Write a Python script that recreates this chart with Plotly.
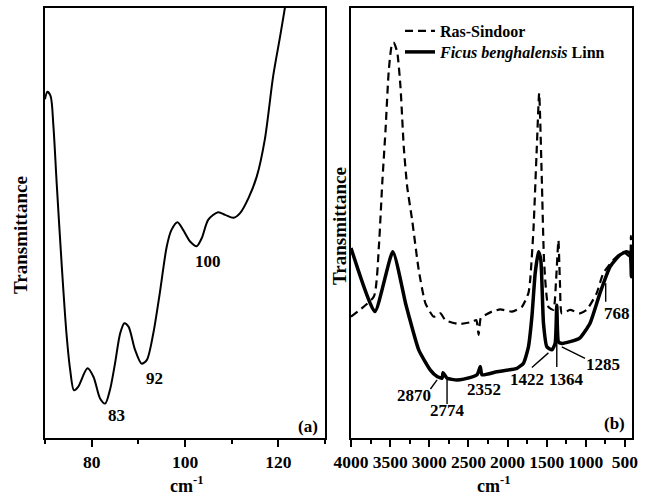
import plotly.graph_objects as go

# ---------------- data: panel (a) ----------------
wn_a = [70, 70.5, 71.2, 71.8, 72.5, 73.6, 74.6, 75.4, 76.2, 77.1, 79.1, 80.4, 81.8, 82.9,
        83.9, 85.0, 86.1, 87.0, 87.9, 89.3, 90.7, 91.8, 93.2, 94.6, 96.1, 97.1, 98.4,
        99.6, 101.1, 102.5, 103.6, 105.0, 107.1, 108.6, 110.4, 111.8, 113.6, 115.4,
        117.1, 118.9, 120.4, 121.4, 122.0]
t_a = [78.8, 80.5, 79.5, 72.6, 59.3, 39.9, 24.3, 15.8, 11.1, 11.9, 16.2, 14.2, 9.2, 8.0,
       11.1, 17.3, 24.3, 26.7, 25.9, 20.5, 17.3, 18.1, 24.3, 33.7, 44.6, 48.4, 50.2,
       48.4, 45.7, 44.6, 46.5, 50.8, 52.5, 51.9, 51.2, 52.3, 55.8, 60.9,
       69.4, 84.2, 93.5, 100, 104]
labels_a = ["83", "92", "100", "(a)"]
labels_a_x = [85.4, 93.4, 105.0, 126.4]
labels_a_y = [5.3, 13.8, 41.1, 2.6]

# ---------------- data: panel (b) ----------------
wn_ficus = [4000, 3695, 3466, 3304, 3262, 3135, 2986, 2900, 2836, 2824, 2773, 2645, 2561,
            2390, 2348, 2327, 2135, 1880, 1796, 1733, 1689, 1647, 1605, 1575, 1541, 1498,
            1434, 1392, 1371, 1348, 1307, 1201, 1074, 946, 819, 691, 564, 478, 436, 424,
            418, 411]
t_ficus = [44.2, 29.4, 43.3, 31.4, 28.5, 20.5, 15.8, 14.3, 13.9, 15.2, 13.9, 13.5, 13.7,
           14.7, 16.6, 14.7, 15.4, 16.2, 17.4, 21.2, 28.2, 38.3, 43.3, 41.4, 26.7, 21.2,
           20.5, 22.0, 30.9, 22.3, 22.0, 22.4, 23.3, 26.7, 33.7, 39.8, 42.6, 43.3, 43.0, 41.0,
           37.5, 44.0]

wn_ras = [4000, 3708, 3644, 3601, 3559, 3517, 3474, 3453, 3410, 3368, 3326, 3282, 3219,
          3135, 3049, 2943, 2858, 2794, 2625, 2454, 2399, 2370, 2342, 2285, 2199, 2093,
          1944, 1817, 1733, 1711, 1669, 1626, 1596, 1562, 1532, 1478, 1414, 1380, 1350,
          1329, 1307, 1201, 1074, 988, 861, 777, 649, 522, 437, 424, 411]
t_ras = [28.2, 32.9, 44.5, 59.2, 71.6, 85.6, 91.8, 91.9, 89.8, 81.7, 67.7, 58.4, 50.7,
         39.1, 31.3, 28.2, 29.0, 27.4, 26.5, 27.0, 27.4, 24.0, 27.9, 28.6, 29.4, 29.9,
         29.4, 30.5, 33.7, 36.7, 48.4, 67.7, 80.2, 60.0, 40.6, 30.5, 29.8, 36.7, 46.0,
         35.2, 29.0, 29.8, 29.0, 29.8, 33.7, 38.3, 41.4, 43.3, 42.2, 47.0, 42.6]

peak_labels_b = ["2870", "2774", "2352", "1422", "1364", "1285", "768", "(b)"]
peak_text_x = [3198, 2773, 2306, 1753, 1243, 777, 606, 640]
peak_text_y = [10.0, 6.5, 11.2, 13.5, 13.5, 17.0, 29.0, 3.3]
# pointer segments (x0, y0, x1, y1) in data units
pointer_x0 = [2985, 2773, 1689, 1371, 1307, 746]
pointer_y0 = [11.4, 13.5, 16.4, 24.4, 21.2, 36.0]
pointer_x1 = [2900, 2773, 1478, 1371, 1010, 746]
pointer_y1 = [13.5, 7.9, 19.8, 16.5, 18.5, 31.7]

FONT = "Liberation Serif, Times New Roman, serif"
W, H = 645, 497

fig = go.Figure()
fig.add_trace(go.Scatter(x=wn_a, y=t_a, mode="lines", xaxis="x", yaxis="y",
                         line=dict(color="black", width=2, shape="spline", smoothing=0.8),
                         showlegend=False))
fig.add_trace(go.Scatter(x=wn_ras, y=t_ras, mode="lines", xaxis="x2", yaxis="y2",
                         name="Ras-Sindoor", legend="legend",
                         line=dict(color="black", width=2.2, dash="8px,5px",
                                   shape="spline", smoothing=0.5)))
fig.add_trace(go.Scatter(x=wn_ficus, y=t_ficus, mode="lines", xaxis="x2", yaxis="y2",
                         name="<i>Ficus benghalensis</i> Linn", legend="legend2",
                         line=dict(color="black", width=3.5, shape="spline", smoothing=0.5)))

axis_common = dict(showline=True, linewidth=2, linecolor="black", mirror=True,
                   showgrid=False, zeroline=False, automargin=False)
tickfont = dict(family=FONT, size=17.5, weight="bold", color="black")
legfont = dict(family=FONT, size=16, weight="bold", color="black")
annfont = dict(family=FONT, size=17, weight="bold", color="black")
titlefont_y = dict(family=FONT, size=19, weight="bold", color="black")
titlefont_x = dict(family=FONT, size=18, weight="bold", color="black")

fig.update_layout(
    template="none",
    width=W, height=H, autosize=False,
    margin=dict(l=0, r=0, t=0, b=0, pad=0),
    plot_bgcolor="white", paper_bgcolor="white",
    font=dict(family=FONT, size=17, color="black", weight="bold"),
    xaxis=dict(domain=[45/W, 325/W], range=[70, 130], anchor="y",
               ticks="outside", ticklen=7, tickwidth=2, tickcolor="black",
               tick0=0, dtick=20,
               minor=dict(ticks="outside", ticklen=4, tickwidth=1.5, dtick=10, tick0=0,
                          tickcolor="black"),
               tickfont=tickfont, **axis_common),
    yaxis=dict(domain=[1-438/H, 1-8/H], range=[0, 100], anchor="x",
               showticklabels=False, ticks="", **axis_common),
    xaxis2=dict(domain=[351/W, 632/W], range=[4000, 410], anchor="y2",
                ticks="outside", ticklen=7, tickwidth=2, tickcolor="black",
                tick0=0, dtick=500,
                minor=dict(ticks="outside", ticklen=4, tickwidth=1.5, dtick=250, tick0=0,
                           tickcolor="black"),
                tickfont=tickfont, **axis_common),
    yaxis2=dict(domain=[1-438/H, 1-8/H], range=[0, 100], anchor="x2",
                showticklabels=False, ticks="", **axis_common),
    legend=dict(x=400/W, y=1-14/H, xanchor="left", yanchor="top",
                bgcolor="rgba(0,0,0,0)", borderwidth=0, font=legfont),
    legend2=dict(x=400/W, y=1-35/H, xanchor="left", yanchor="top",
                 bgcolor="rgba(0,0,0,0)", borderwidth=0, font=legfont),
)

annotations = []
for t, x, y in zip(labels_a, labels_a_x, labels_a_y):
    annotations.append(dict(text=t, x=x, y=y, xref="x", yref="y", showarrow=False,
                            xanchor="center", yanchor="middle", font=annfont))
for t, x, y in zip(peak_labels_b, peak_text_x, peak_text_y):
    annotations.append(dict(text=t, x=x, y=y, xref="x2", yref="y2", showarrow=False,
                            xanchor="center", yanchor="middle", font=annfont))
# axis titles
for xc, yc in [(20, 235), (339, 226)]:
    annotations.append(dict(text="Transmittance", x=xc/W, y=1-yc/H, xref="paper",
                            yref="paper", showarrow=False, textangle=-90,
                            xanchor="center", yanchor="middle", font=titlefont_y))
for xc in [186, 493]:
    annotations.append(dict(text="cm<sup>-1</sup>", x=xc/W, y=1-484/H, xref="paper",
                            yref="paper", showarrow=False,
                            xanchor="center", yanchor="middle", font=titlefont_x))
fig.update_layout(annotations=annotations)

shapes = []
for x0, y0, x1, y1 in zip(pointer_x0, pointer_y0, pointer_x1, pointer_y1):
    shapes.append(dict(type="line", xref="x2", yref="y2", x0=x0, y0=y0, x1=x1, y1=y1,
                       line=dict(color="black", width=1.4)))
fig.update_layout(shapes=shapes)

fig.write_html("out.html", config={"displayModeBar": False},
               post_script="document.body.style.margin='0';")
